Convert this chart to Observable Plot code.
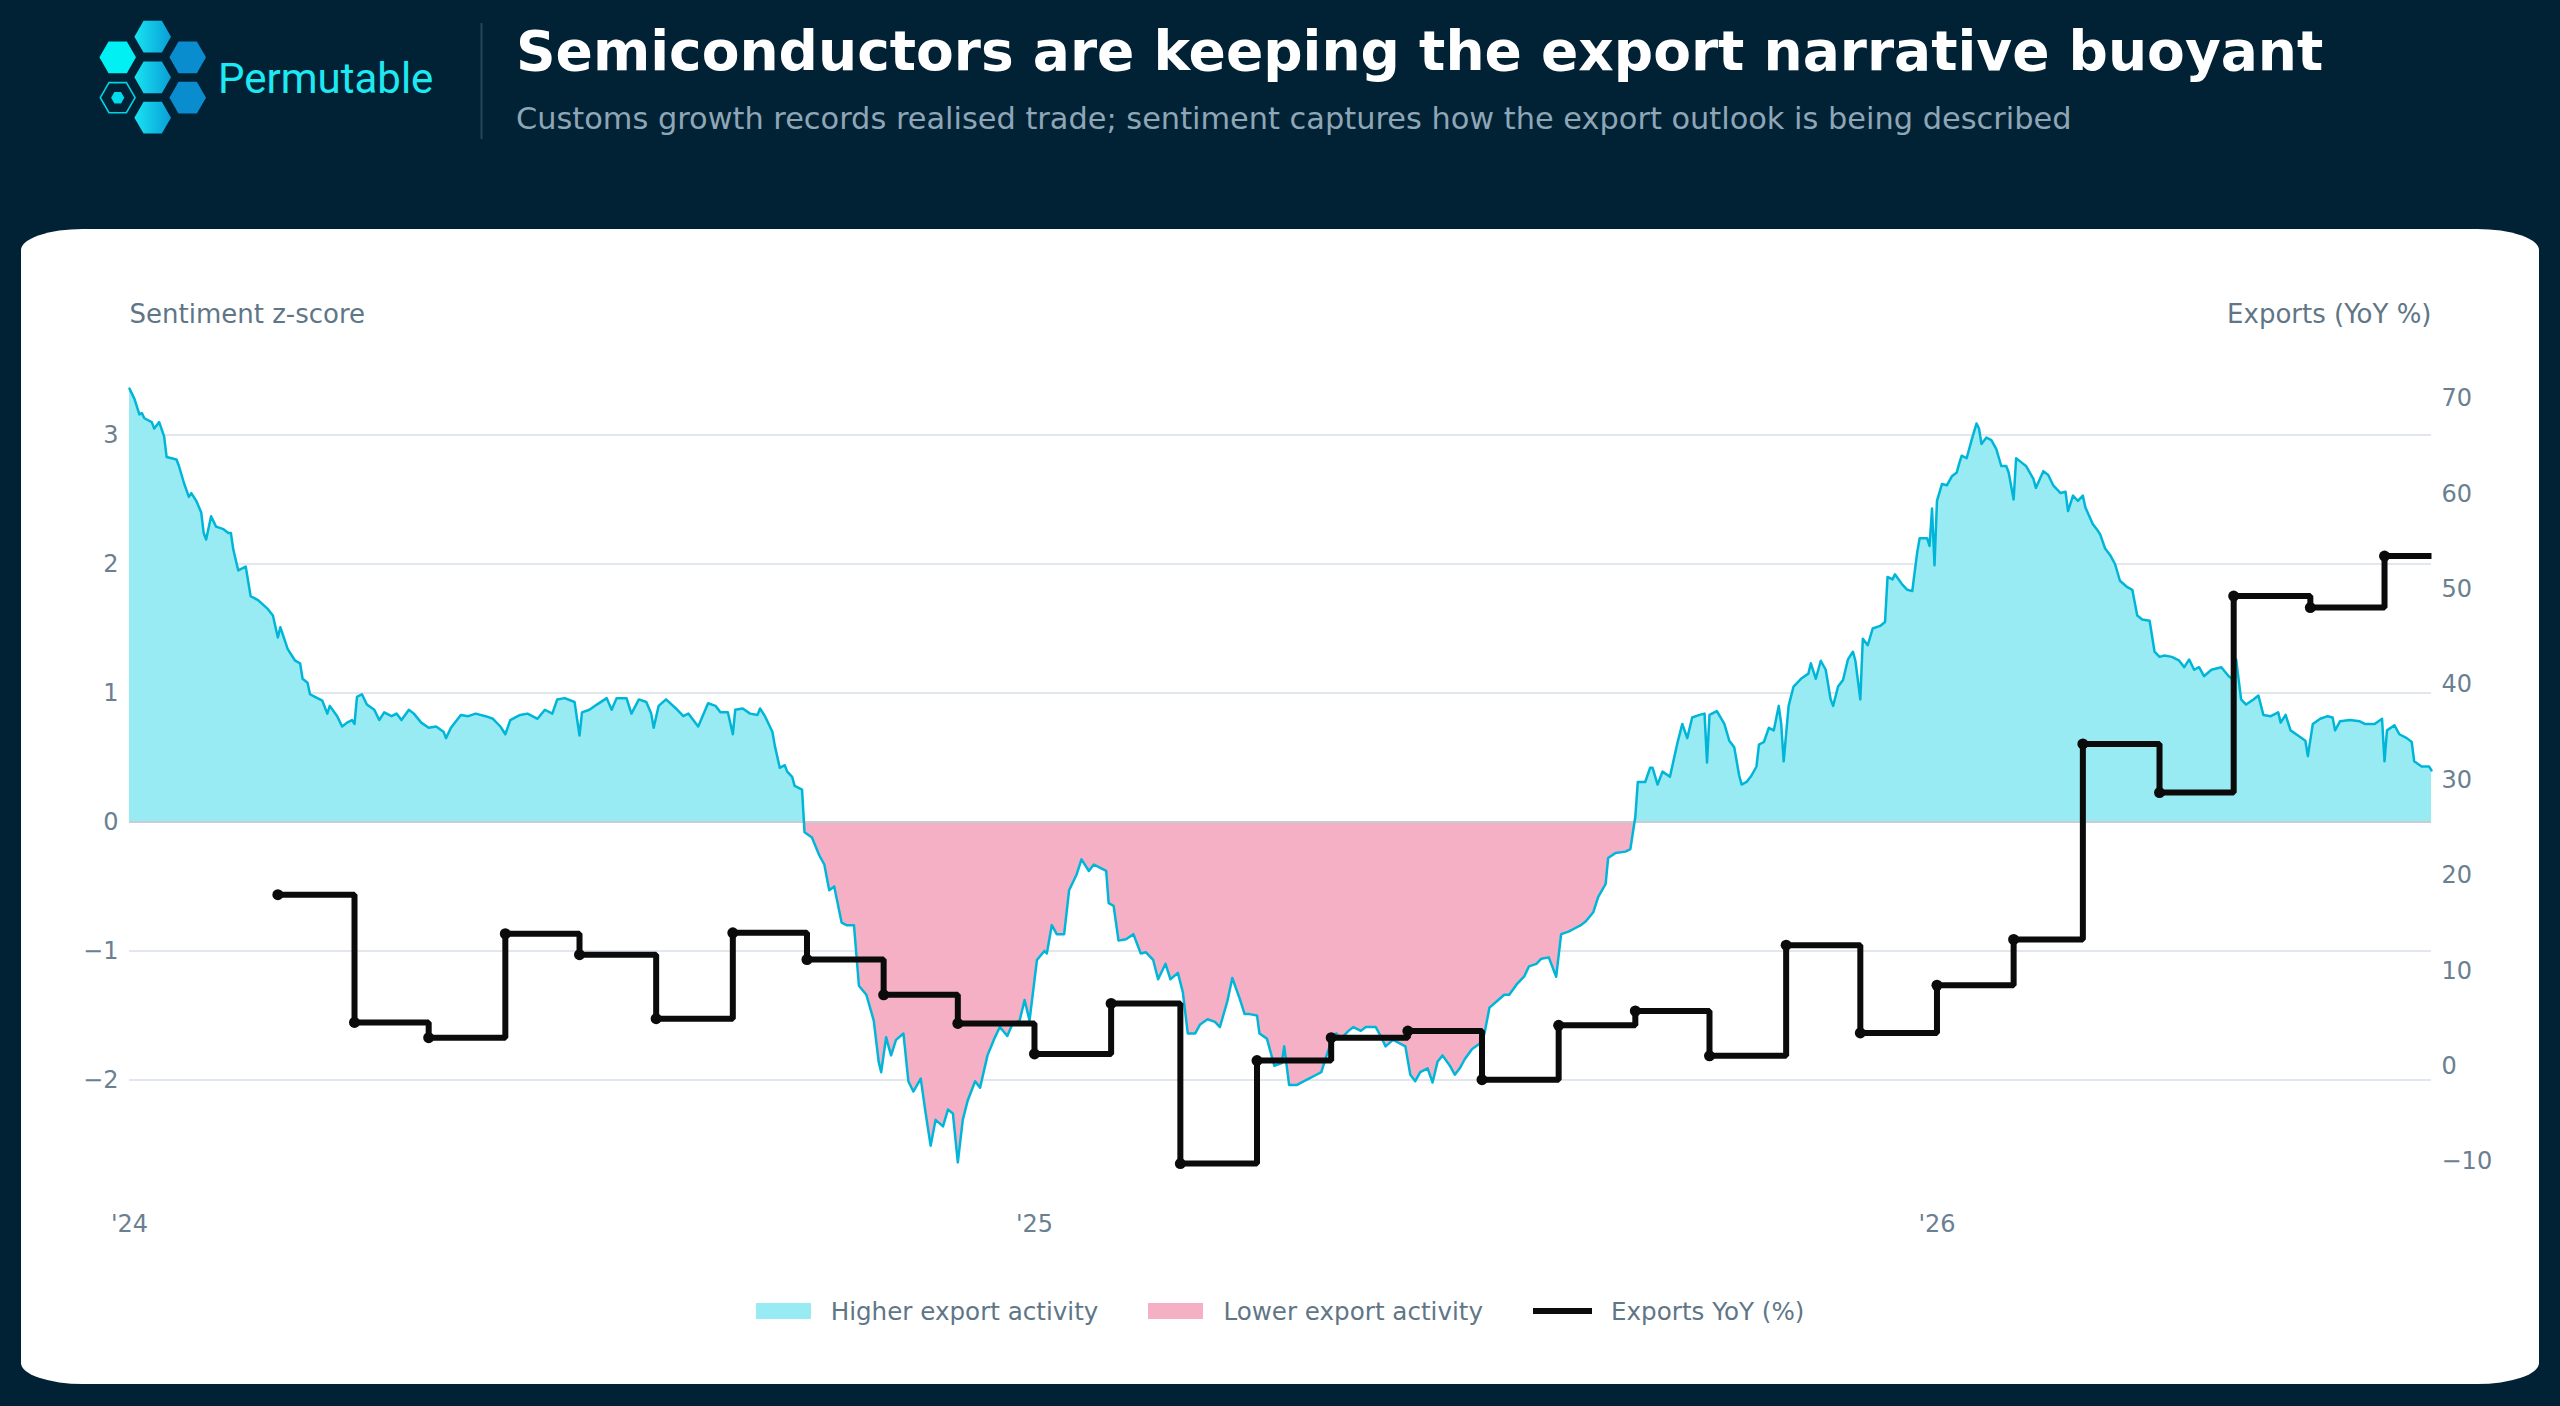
<!DOCTYPE html>
<html>
<head>
<meta charset="utf-8">
<script src="https://cdn.jsdelivr.net/npm/d3@7"></script>
<script src="https://cdn.jsdelivr.net/npm/@observablehq/plot@0.6"></script>
<style>
  html, body { margin: 0; padding: 0; background: #012135; }
  body { width: 2560px; height: 1406px; position: relative; overflow: hidden; font-family: "DejaVu Sans", sans-serif; }
  #header { position: absolute; left: 0; top: 0; }
  #card { position: absolute; left: 21px; top: 229px; width: 2518px; height: 1155px; background: #ffffff; border-radius: 62px / 21px; }
  #chart { position: absolute; left: 0; top: 230px; }
  #legend { position: absolute; left: 0; top: 1296px; width: 2560px; height: 30px; display: flex; justify-content: center; align-items: center; font-size: 24.6px; color: #5f7687; }
  .item { display: flex; align-items: center; margin: 0 25px; }
  .sw { width: 55px; height: 16px; margin-right: 20px; }
  .ln { width: 59px; height: 6px; background: #0b0b0b; margin-right: 19px; }
</style>
</head>
<body>
<svg id="header" width="2560" height="228" xmlns="http://www.w3.org/2000/svg">
  <defs>
    <linearGradient id="hexGrad" x1="0" x2="1" y1="0" y2="0">
      <stop offset="0" stop-color="#18e4f2"/>
      <stop offset="1" stop-color="#0a9ed6"/>
    </linearGradient>
  </defs>
  <g id="logo"></g>
  <text x="218" y="93" font-family="Roboto" font-size="42" fill="#1de9f2">Permutable</text>
  <line x1="481.5" x2="481.5" y1="23" y2="139" stroke="#26445a" stroke-width="2"/>
  <text x="516" y="70" font-family="DejaVu Sans" font-weight="bold" font-size="55" fill="#ffffff">Semiconductors are keeping the export narrative buoyant</text>
  <text x="516" y="129" font-family="DejaVu Sans" font-size="30.4" fill="#8ea6b6">Customs growth records realised trade; sentiment captures how the export outlook is being described</text>
</svg>
<div id="card"></div>
<div id="chart"></div>
<div id="legend">
  <div class="item"><div class="sw" style="background:#98eaf3"></div><span>Higher export activity</span></div>
  <div class="item"><div class="sw" style="background:#f5b0c6"></div><span>Lower export activity</span></div>
  <div class="item"><div class="ln"></div><span>Exports YoY (%)</span></div>
</div>
<script>
// ---- Data -------------------------------------------------------------
// Daily export-sentiment z-score, as [days since 2024-01-01, z-score]
const sentimentStart = "2024-01-01";
const sentimentReadings = [
  [0,3.36],[2,3.28],[4,3.16],[5,3.17],[6,3.13],[9,3.10],[10,3.05],[12,3.10],[14,2.99],[15,2.83],
  [19,2.81],[20,2.76],[22,2.63],[24,2.52],[25,2.55],[27,2.49],[29,2.40],[30,2.24],[31,2.19],[33,2.37],
  [35,2.29],[38,2.27],[40,2.24],[41,2.24],[42,2.11],[44,1.95],[47,1.98],[49,1.75],[52,1.72],[56,1.65],
  [58,1.60],[60,1.43],[61,1.51],[64,1.34],[67,1.25],[69,1.23],[70,1.11],[72,1.08],[73,0.99],[75,0.97],
  [78,0.94],[80,0.84],[81,0.90],[84,0.82],[86,0.74],[88,0.77],[90,0.79],[91,0.76],[92,0.97],[94,0.99],
  [96,0.91],[99,0.87],[101,0.79],[103,0.85],[106,0.82],[108,0.84],[110,0.79],[113,0.87],[115,0.84],[118,0.77],
  [121,0.73],[124,0.74],[127,0.70],[128,0.65],[130,0.73],[134,0.83],[137,0.82],[140,0.84],[144,0.82],[147,0.80],
  [150,0.74],[152,0.68],[154,0.79],[158,0.83],[161,0.84],[165,0.80],[168,0.87],[171,0.84],[173,0.95],[176,0.96],
  [180,0.93],[182,0.67],[183,0.85],[186,0.87],[189,0.91],[193,0.96],[195,0.87],[197,0.96],[201,0.96],[203,0.84],
  [206,0.95],[209,0.93],[211,0.84],[212,0.73],[214,0.90],[217,0.95],[221,0.88],[224,0.82],[226,0.84],[230,0.74],
  [234,0.92],[237,0.90],[239,0.85],[242,0.85],[244,0.68],[245,0.87],[248,0.88],[251,0.84],[254,0.83],[255,0.88],
  [257,0.82],[260,0.70],[261,0.59],[263,0.42],[265,0.44],[266,0.39],[268,0.35],[269,0.28],[272,0.25],[273,-0.08],
  [276,-0.12],[279,-0.26],[281,-0.33],[283,-0.53],[285,-0.50],[288,-0.78],[290,-0.80],[293,-0.80],[295,-1.27],[298,-1.34],
  [301,-1.54],[303,-1.86],[304,-1.94],[306,-1.67],[308,-1.81],[310,-1.69],[313,-1.64],[315,-2.01],[317,-2.09],[320,-1.99],
  [322,-2.26],[324,-2.51],[326,-2.31],[329,-2.36],[331,-2.23],[333,-2.26],[335,-2.64],[337,-2.31],[339,-2.16],[342,-2.01],
  [344,-2.06],[347,-1.81],[350,-1.67],[352,-1.59],[355,-1.66],[357,-1.57],[360,-1.54],[362,-1.38],[364,-1.54],[367,-1.07],
  [370,-1.00],[371,-1.02],[373,-0.80],[375,-0.87],[378,-0.87],[380,-0.53],[383,-0.41],[385,-0.29],[388,-0.38],[390,-0.33],
  [393,-0.36],[395,-0.38],[396,-0.63],[398,-0.65],[400,-0.92],[403,-0.91],[406,-0.87],[409,-1.02],[411,-1.01],[414,-1.07],
  [416,-1.22],[419,-1.10],[421,-1.22],[424,-1.17],[426,-1.32],[428,-1.64],[431,-1.64],[433,-1.57],[436,-1.53],[439,-1.55],
  [441,-1.59],[444,-1.39],[446,-1.21],[449,-1.37],[451,-1.49],[453,-1.49],[456,-1.50],[457,-1.64],[460,-1.68],[463,-1.89],
  [466,-1.87],[467,-1.74],[469,-2.04],[472,-2.04],[475,-2.01],[477,-1.99],[480,-1.96],[482,-1.94],[485,-1.76],[488,-1.64],
  [490,-1.68],[493,-1.62],[495,-1.59],[498,-1.62],[500,-1.59],[504,-1.59],[506,-1.66],[508,-1.74],[511,-1.69],[513,-1.71],
  [516,-1.74],[518,-1.96],[520,-2.01],[522,-1.94],[525,-1.91],[527,-2.02],[529,-1.86],[531,-1.81],[534,-1.89],[536,-1.96],
  [538,-1.91],[540,-1.84],[543,-1.76],[546,-1.72],[548,-1.64],[550,-1.44],[553,-1.39],[556,-1.34],[558,-1.34],[561,-1.26],
  [564,-1.20],[566,-1.12],[569,-1.10],[571,-1.06],[574,-1.05],[577,-1.20],[579,-0.87],[582,-0.85],[584,-0.83],[587,-0.80],
  [589,-0.77],[592,-0.70],[594,-0.58],[597,-0.48],[598,-0.28],[601,-0.24],[605,-0.23],[607,-0.21],[609,0.04],[610,0.31],
  [613,0.31],[615,0.42],[616,0.42],[618,0.29],[620,0.39],[623,0.35],[626,0.61],[628,0.76],[630,0.65],[632,0.81],
  [635,0.83],[637,0.84],[638,0.46],[639,0.83],[642,0.86],[645,0.76],[647,0.63],[649,0.58],[651,0.36],[652,0.29],
  [654,0.31],[656,0.36],[658,0.43],[659,0.60],[661,0.62],[663,0.73],[665,0.71],[667,0.90],[668,0.76],[669,0.47],
  [671,0.90],[673,1.05],[676,1.11],[679,1.15],[680,1.23],[682,1.11],[684,1.25],[686,1.18],[688,0.95],[689,0.90],
  [691,1.05],[693,1.10],[695,1.26],[697,1.32],[698,1.25],[700,0.95],[701,1.42],[703,1.37],[705,1.50],[708,1.52],
  [710,1.55],[711,1.90],[713,1.88],[714,1.92],[717,1.84],[719,1.80],[721,1.79],[723,2.09],[724,2.20],[727,2.20],
  [728,2.14],[729,2.43],[730,1.99],[731,2.49],[733,2.62],[735,2.61],[737,2.68],[739,2.71],[740,2.78],[741,2.84],
  [743,2.82],[745,2.96],[747,3.09],[748,3.05],[749,2.93],[751,2.98],[753,2.96],[755,2.89],[757,2.76],[759,2.76],
  [760,2.71],[762,2.50],[763,2.82],[765,2.79],[767,2.76],[770,2.66],[771,2.59],[774,2.72],[776,2.69],[778,2.61],
  [781,2.55],[783,2.56],[784,2.41],[786,2.53],[788,2.49],[790,2.53],[791,2.44],[794,2.31],[796,2.26],[797,2.23],
  [799,2.12],[801,2.07],[803,2.00],[805,1.87],[808,1.82],[810,1.80],[812,1.60],[814,1.57],[817,1.56],[819,1.32],
  [821,1.28],[823,1.29],[826,1.28],[829,1.25],[831,1.20],[833,1.26],[835,1.18],[837,1.20],[839,1.13],[842,1.18],
  [846,1.20],[849,1.13],[851,1.10],[852,1.26],[854,0.95],[856,0.91],[859,0.95],[861,0.98],[863,0.83],[866,0.82],
  [869,0.85],[870,0.77],[872,0.83],[874,0.71],[877,0.67],[880,0.63],[881,0.51],[883,0.76],[886,0.80],[889,0.82],
  [891,0.81],[892,0.71],[894,0.78],[898,0.79],[902,0.78],[904,0.76],[908,0.76],[911,0.80],[912,0.47],[913,0.71],
  [916,0.75],[918,0.68],[921,0.65],[923,0.62],[924,0.47],[927,0.43],[930,0.43],[931,0.40]
];

// Monthly customs exports, year-on-year %
const exportMonths = [
  "2024-03","2024-04","2024-05","2024-06","2024-07","2024-08","2024-09","2024-10","2024-11","2024-12",
  "2025-01","2025-02","2025-03","2025-04","2025-05","2025-06","2025-07","2025-08","2025-09","2025-10",
  "2025-11","2025-12","2026-01","2026-02","2026-03","2026-04","2026-05","2026-06","2026-07"
];
const exportYoY = [
  18.0, 4.6, 3.0, 13.9, 11.7, 5.0, 14.0, 11.2, 7.5, 4.5,
  1.3, 6.6, -10.2, 0.6, 3.0, 3.7, -1.4, 4.3, 5.8, 1.1,
  12.7, 3.5, 8.5, 13.3, 33.8, 28.7, 49.3, 48.1, 53.5
];

const leftTicks = [-2, -1, 0, 1, 2, 3];
const rightTicks = [-10, 0, 10, 20, 30, 40, 50, 60, 70];
const yearTicks = ["2024-01-01", "2025-01-01", "2026-01-01"];
const seriesEnd = "2026-07-20";

// ---- Logo --------------------------------------------------------------
(function drawLogo() {
  const g = d3.select("#logo");
  const hex = (cx, cy, r) => d3.range(6).map(k => {
    const a = Math.PI / 3 * k;
    return [cx + r * Math.cos(a), cy + r * Math.sin(a)].join(",");
  }).join(" ");
  const cells = [
    {cx: 117.7, cy: 57.3, fill: "#00f0f4"},
    {cx: 152.7, cy: 36.7, fill: "url(#hexGrad)"},
    {cx: 152.7, cy: 77.3, fill: "url(#hexGrad)"},
    {cx: 152.7, cy: 117.7, fill: "url(#hexGrad)"},
    {cx: 187.7, cy: 57.3, fill: "#0a8dcf"},
    {cx: 187.7, cy: 97.7, fill: "#0a8dcf"}
  ];
  cells.forEach(c => g.append("polygon").attr("points", hex(c.cx, c.cy, 18.3)).attr("fill", c.fill));
  g.append("polygon").attr("points", hex(117.7, 97.7, 17.4)).attr("fill", "none").attr("stroke", "#00d4e6").attr("stroke-width", 1.6);
  g.append("polygon").attr("points", hex(117.7, 97.7, 6.6)).attr("fill", "#00dced");
})();

// ---- Chart -------------------------------------------------------------
const day0 = Date.parse(sentimentStart);
const sentiment = sentimentReadings.map(([d, v]) => ({date: new Date(day0 + d * 864e5), v}));

// add the zero crossings so the two fills meet cleanly at the baseline
const banded = [];
sentiment.forEach((a, i) => {
  if (i > 0) {
    const p = sentiment[i - 1];
    if (p.v * a.v < 0) {
      const t = p.v / (p.v - a.v);
      banded.push({date: new Date(+p.date + t * (a.date - p.date)), v: 0});
    }
  }
  banded.push(a);
});

const exportsData = exportMonths.map((m, i) => ({date: new Date(m + "-01"), v: exportYoY[i]}));
const exportsLine = [...exportsData, {date: new Date(seriesEnd), v: exportYoY[exportYoY.length - 1]}];

// the two y axes share one frame: exports are mapped onto the sentiment scale
const yDomain = [-2.78, 3.384];
const rightDomain = [-11.97, 71.38];
const toLeft = d3.scaleLinear(rightDomain, yDomain);
const minus = d => (d < 0 ? "\u2212" + Math.abs(d) : String(d));

const chart = Plot.plot({
  width: 2560,
  height: 1040,
  marginLeft: 129,
  marginRight: 129,
  marginTop: 155,
  marginBottom: 90,
  x: {type: "utc", domain: [new Date(sentimentStart), new Date(seriesEnd)]},
  y: {domain: yDomain},
  style: {fontFamily: "DejaVu Sans", fontSize: "24px", color: "#6a8091", background: "transparent", overflow: "visible"},
  marks: [
    Plot.gridY([-2, -1, 1, 2, 3], {stroke: "#e1e7ec", strokeOpacity: 1, strokeWidth: 2}),
    Plot.areaY(banded, {x: "date", y1: 0, y2: d => Math.max(0, d.v), fill: "#98eaf3"}),
    Plot.areaY(banded, {x: "date", y1: 0, y2: d => Math.min(0, d.v), fill: "#f5b0c6"}),
    Plot.ruleY([0], {stroke: "#c8cdd5", strokeWidth: 2}),
    Plot.line(sentiment, {x: "date", y: "v", stroke: "#00b6d8", strokeWidth: 2.5}),
    Plot.line(exportsLine, {x: "date", y: d => toLeft(d.v), curve: "step-after", stroke: "#0b0b0b", strokeWidth: 6, strokeLinejoin: "miter", strokeLinecap: "butt"}),
    Plot.dot(exportsData, {x: "date", y: d => toLeft(d.v), r: 5.5, fill: "#0b0b0b"}),
    Plot.axisY(leftTicks, {anchor: "left", tickSize: 0, tickPadding: 11, tickFormat: minus, label: null}),
    Plot.axisY(rightTicks.map(t => toLeft(t)), {anchor: "right", tickSize: 0, tickPadding: 10, tickFormat: d => minus(Math.round(toLeft.invert(d))), label: null}),
    Plot.axisX(yearTicks.map(d => new Date(d)), {tickSize: 0, tickPadding: 34, tickFormat: d => "'" + String(d.getUTCFullYear()).slice(2), label: null}),
    Plot.text(["Sentiment z-score"], {text: d => d, frameAnchor: "top-left", dy: -81, textAnchor: "start", fill: "#5f7686", fontSize: 26}),
    Plot.text(["Exports (YoY %)"], {text: d => d, frameAnchor: "top-right", dy: -81, textAnchor: "end", fill: "#5f7686", fontSize: 26})
  ]
});
document.getElementById("chart").append(chart);
</script>
</body>
</html>
